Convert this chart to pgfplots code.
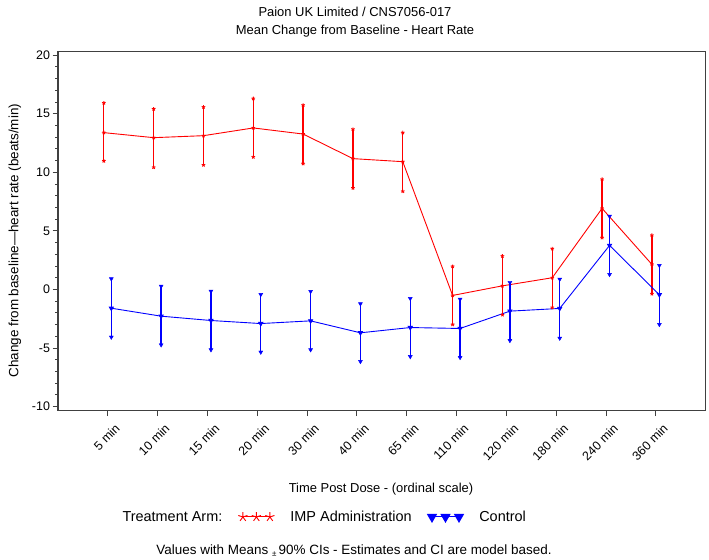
\documentclass[border=0pt]{standalone}
\usepackage{pgfplots}
\usepackage{pgfplotstable}
\pgfplotsset{compat=1.18}
\usepackage{fontspec}
\setmainfont{Liberation Sans}

\pgfplotsset{
  threemarks/.style={legend image code/.code={\draw[##1, mark repeat=1, mark size=#1, line width=1pt] plot coordinates {(0bp,0bp) (13.5bp,0bp) (27bp,0bp)};}}
}

\pgfplotstableread{
x y lo hi
-0.08 13.39 10.97 15.92
0.92 12.96 10.43 15.41
1.92 13.13 10.63 15.58
2.92 13.79 11.31 16.30
3.92 13.27 10.74 15.73
4.92 11.17 8.66 13.68
5.92 10.91 8.38 13.39
6.92 -0.51 -2.99 1.97
7.92 0.31 -2.16 2.85
8.92 1.00 -1.54 3.48
9.92 6.92 4.42 9.40
10.92 2.14 -0.37 4.62
}\imp

\pgfplotstableread{
x y lo hi
0.07 -1.60 -4.07 0.91
1.07 -2.28 -4.73 0.28
2.07 -2.65 -5.15 -0.15
3.07 -2.91 -5.35 -0.43
4.07 -2.68 -5.15 -0.17
5.07 -3.70 -6.15 -1.22
6.07 -3.25 -5.73 -0.77
7.07 -3.33 -5.81 -0.83
8.07 -1.85 -4.36 0.60
9.07 -1.62 -4.16 0.88
10.07 3.76 1.28 6.25
11.07 -0.45 -2.99 2.05
}\ctrl

\begin{document}
\begin{tikzpicture}[x=1bp,y=1bp]
\useasboundingbox (-58,-149.3) rectangle (651,410.7);
\begin{axis}[
  at={(0,0)}, anchor=south west,
  scale only axis, width=647.7bp, height=359bp,
  xmin=-1, xmax=12, ymin=-10.35, ymax=20.3,
  xtick={0,...,11},
  xticklabels={5 min,10 min,15 min,20 min,30 min,40 min,65 min,110 min,120 min,180 min,240 min,360 min},
  ytick={-10,-5,0,5,10,15,20},
  minor y tick num=4,
  xtick pos=bottom, ytick pos=left,
  tick align=outside,
  major tick length=5.5bp, minor tick length=3bp,
  axis line style={black!75, line width=1.2pt},
  every tick/.style={black!75, line width=1pt},
  /pgf/number format/assume math mode=true,
  y tick label style={font=\fontsize{12.5}{14}\selectfont, xshift=1bp},
  x tick label style={rotate=45, anchor=north east, font=\fontsize{12.5}{14}\selectfont, yshift=-6bp, xshift=3bp},
  legend style={at={(axis description cs:0.07,-0.296)}, anchor=west, draw=none, fill=none,
    font=\fontsize{14.5}{16}\selectfont, column sep=14bp},
  legend columns=3,
  clip=false,
]
\addlegendimage{empty legend}
\addlegendentry{Treatment Arm:}

% red CI bars
\addplot[red, line width=1.3pt, mark=none, forget plot, draw=none,
  error bars/.cd, y dir=both, y explicit, error mark=none, error bar style={solid, draw=red, line width=1.3pt}]
  table[x=x, y=y, y error plus expr=\thisrow{hi}-\thisrow{y}, y error minus expr=\thisrow{y}-\thisrow{lo}] {\imp};
\addplot[red, line width=0.9pt, mark=star, mark size=1.9pt, mark options={solid, line width=0.9pt},
  threemarks=4.8bp] table[x=x, y=y] {\imp};
\addlegendentry{IMP Administration}
\addplot[red, only marks, mark=star, mark size=1.9pt, mark options={line width=0.9pt}, forget plot] table[x=x, y=hi] {\imp};
\addplot[red, only marks, mark=star, mark size=1.9pt, mark options={line width=0.9pt}, forget plot] table[x=x, y=lo] {\imp};

\addplot[blue, line width=0.9pt, mark=triangle*, mark size=2.3pt, mark options={solid, rotate=180},
  threemarks=5bp,
  error bars/.cd, y dir=both, y explicit, error mark=none, error bar style={draw=blue, line width=1.4pt}]
  table[x=x, y=y, y error plus expr=\thisrow{hi}-\thisrow{y}, y error minus expr=\thisrow{y}-\thisrow{lo}] {\ctrl};
\addlegendentry{Control}
\addplot[blue, only marks, mark=triangle*, mark size=2.3pt, mark options={rotate=180}, forget plot] table[x=x, y=hi] {\ctrl};
\addplot[blue, only marks, mark=triangle*, mark size=2.3pt, mark options={rotate=180}, forget plot] table[x=x, y=lo] {\ctrl};
\end{axis}

\node[font=\fontsize{13}{15}\selectfont] at (297,399) {Paion UK Limited / CNS7056-017};
\node[font=\fontsize{13}{15}\selectfont] at (297,380) {Mean Change from Baseline - Heart Rate};
\node[font=\fontsize{13}{15}\selectfont] at (323,-78) {Time Post Dose - (ordinal scale)};
\node[font=\fontsize{13.5}{15}\selectfont, rotate=90] at (-43,170) {Change from baseline—heart rate (beats/min)};
\node[font=\fontsize{13.5}{15}\selectfont] at (296,-140) {Values with Means \raisebox{-1.5bp}{\footnotesize ±}\,90\% CIs - Estimates and CI are model based.};
\end{tikzpicture}
\end{document}
